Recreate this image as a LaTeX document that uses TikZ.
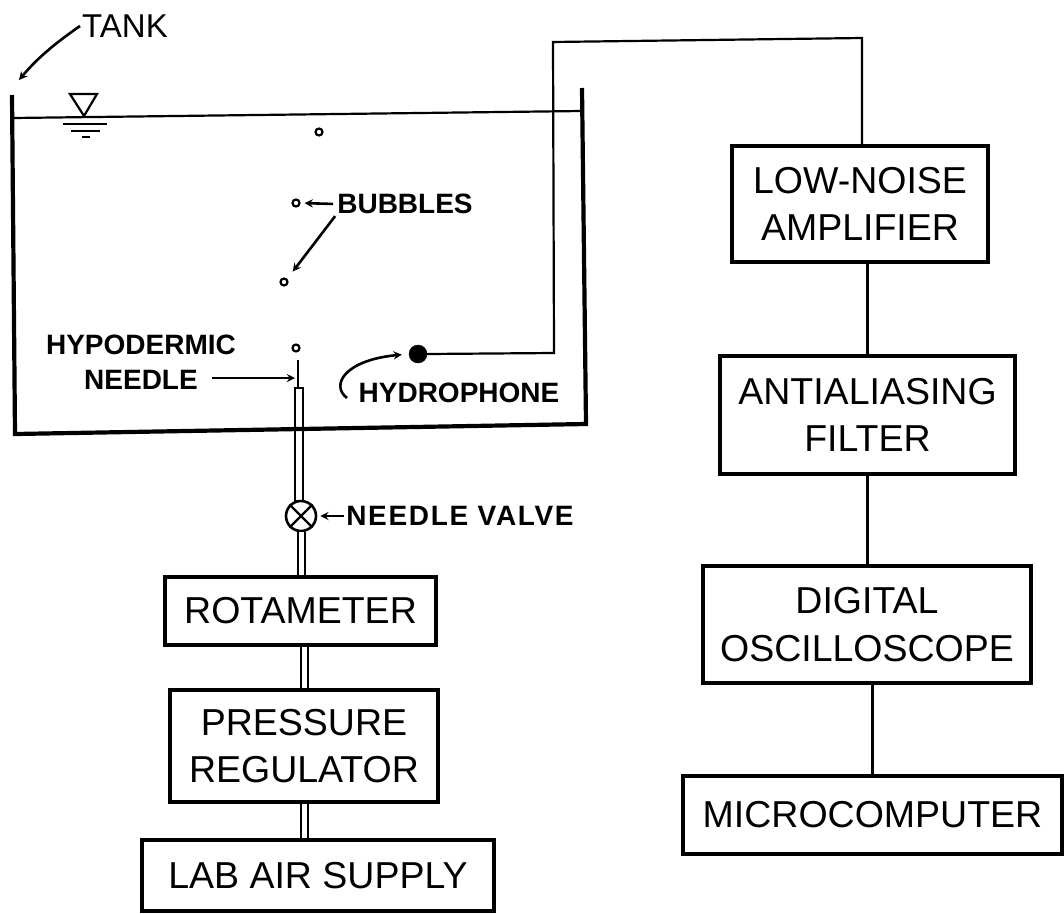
\documentclass[tikz,border=0pt]{standalone}
\usepackage{fontspec}
\setmainfont{Liberation Sans}
\usepackage{tikz}
\usetikzlibrary{arrows, positioning, calc}
\tikzset{
    blockbox/.style={draw, rectangle, line width=3.6pt, align=center, font=\fontsize{37.5}{47.5}\selectfont},
    tag/.style={font=\bfseries\fontsize{28}{35}\selectfont, align=center},
    bubble/.style={draw, circle, line width=2.2pt, inner sep=0pt, minimum size=7pt},
    wire/.style={line width=2.2pt},
    tube/.style={line width=2pt, double, double distance=5pt},
    pointer/.style={line width=2.6pt, ->, >=stealth},
}
\begin{document}
\begin{tikzpicture}[x=1pt, y=-1pt, >=stealth, every node/.style={inner sep=2pt}]
    \useasboundingbox (0, 0) rectangle (1064, 913);

    % Tank walls and water line
    \coordinate (walltopL) at (12, 95);
    \coordinate (wallbotL) at (15, 434);
    \coordinate (wallbotR) at (586, 424);
    \coordinate (walltopR) at (582, 88);
    \coordinate (waterL) at (13, 118);
    \coordinate (waterR) at (582, 111);
    \draw[line width=4.2pt, line join=miter] (walltopL) -- (wallbotL) -- (wallbotR) -- (walltopR);
    \draw[wire] (waterL) -- (waterR);

    % Water level mark
    \coordinate (markA) at (70, 94);
    \coordinate (markB) at (97, 94);
    \coordinate (markC) at (84, 116);
    \draw[wire] (markA) -- (markB) -- (markC) -- cycle;
    \coordinate (levelAL) at (63, 124);
    \coordinate (levelAR) at (107, 124);
    \coordinate (levelBL) at (71, 131);
    \coordinate (levelBR) at (100, 131);
    \coordinate (levelCL) at (82, 137);
    \coordinate (levelCR) at (90, 137);
    \draw[wire] (levelAL) -- (levelAR);
    \draw[wire] (levelBL) -- (levelBR);
    \draw[wire] (levelCL) -- (levelCR);

    % Bubbles
    \node[bubble] (bubbleA) at (319, 132) {};
    \node[bubble] (bubbleB) at (296, 203) {};
    \node[bubble] (bubbleC) at (284, 282) {};
    \node[bubble] (bubbleD) at (296, 348) {};

    % Air line, bottom to top
    \node[blockbox, minimum width=352pt, minimum height=71pt] (supply) at (318, 875.5) {LAB AIR SUPPLY};
    \node[blockbox, minimum width=268pt, minimum height=112pt] (regulator) at (304, 746) {PRESSURE\\REGULATOR};
    \node[blockbox, minimum width=271pt, minimum height=68pt] (rotameter) at (300.5, 611) {ROTAMETER};
    \node[draw, rectangle, line width=2pt, minimum width=8pt, minimum height=113pt, inner sep=0pt] (needletube) at (299, 444.5) {};
    \node[draw, circle, line width=2.6pt, fill=white, minimum size=30pt, inner sep=0pt] (valve) at (301, 516) {};
    \coordinate (needletip) at (298, 360);
    \draw[wire] (needletube.north -| needletip) -- (needletip);
    \draw[line width=2.2pt] (valve.45) -- (valve.225);
    \draw[line width=2.2pt] (valve.135) -- (valve.315);
    \draw[tube] (valve.south) -- (valve.south |- rotameter.north);
    \draw[tube] (rotameter.south -| regulator.north) -- (regulator.north);
    \draw[tube] (regulator.south) -- (regulator.south |- supply.north);

    % Instrument column
    \node[blockbox, minimum width=256pt, minimum height=116pt] (amplifier) at (860, 204) {LOW-NOISE\\AMPLIFIER};
    \node[blockbox, minimum width=295pt, minimum height=118pt] (filter) at (867.5, 415) {ANTIALIASING\\FILTER};
    \node[blockbox, minimum width=328pt, minimum height=117pt] (scope) at (867, 624.5) {DIGITAL\\OSCILLOSCOPE};
    \node[blockbox, minimum width=379pt, minimum height=78pt] (micro) at (872.5, 815) {MICROCOMPUTER};
    \draw[wire] (filter.north |- amplifier.south) -- (filter.north);
    \draw[wire] (filter.south) -- (scope.north -| filter.south);
    \draw[wire] (micro.north |- scope.south) -- (micro.north);

    % Hydrophone and its cable
    \node[draw, circle, fill=black, minimum size=18pt, inner sep=0pt] (phone) at (418, 354) {};
    \coordinate (cableA) at (554, 353);
    \coordinate (cableB) at (553, 42);
    \coordinate (cableC) at (862, 38);
    \draw[wire] (phone.east) -- (cableA) -- (cableB) -- (cableC) -- (cableC |- amplifier.north);

    % Labels and pointers
    \node[font=\fontsize{33}{36}\selectfont] (tanklabel) at (125, 26) {TANK};
    \coordinate (tanktip) at (19, 80);
    \draw[pointer] (tanklabel.west) .. controls (60, 40) and (40, 55) .. (tanktip);

    \node[tag] (bubblelabel) at (405, 204) {BUBBLES};
    \draw[pointer, shorten >=4pt, shorten <=2pt] (bubblelabel.west) -- (bubbleB.east);
    \draw[pointer, shorten >=9pt] (bubblelabel.south west) -- (bubbleC.north east);

    \node[tag] (needlelabel) at (141, 362) {HYPODERMIC\\NEEDLE};
    \coordinate (needlemark) at (295, 378);
    \coordinate (needlestart) at (212, 378);
    \draw[pointer] (needlestart) -- (needlemark);

    \node[tag] (phonelabel) at (459, 393) {HYDROPHONE};
    \coordinate (phonestart) at (347, 398);
    \draw[pointer, shorten >=7pt] (phonestart) .. controls (330, 385) and (345, 360) .. (phone.west);

    \node[tag, font=\bfseries\fontsize{28}{35}\selectfont\addfontfeature{LetterSpace=6}] (valvelabel) at (460, 516) {NEEDLE VALVE};
    \draw[pointer, shorten >=3pt] (valvelabel.west) -- (valve.east);
\end{tikzpicture}
\end{document}
